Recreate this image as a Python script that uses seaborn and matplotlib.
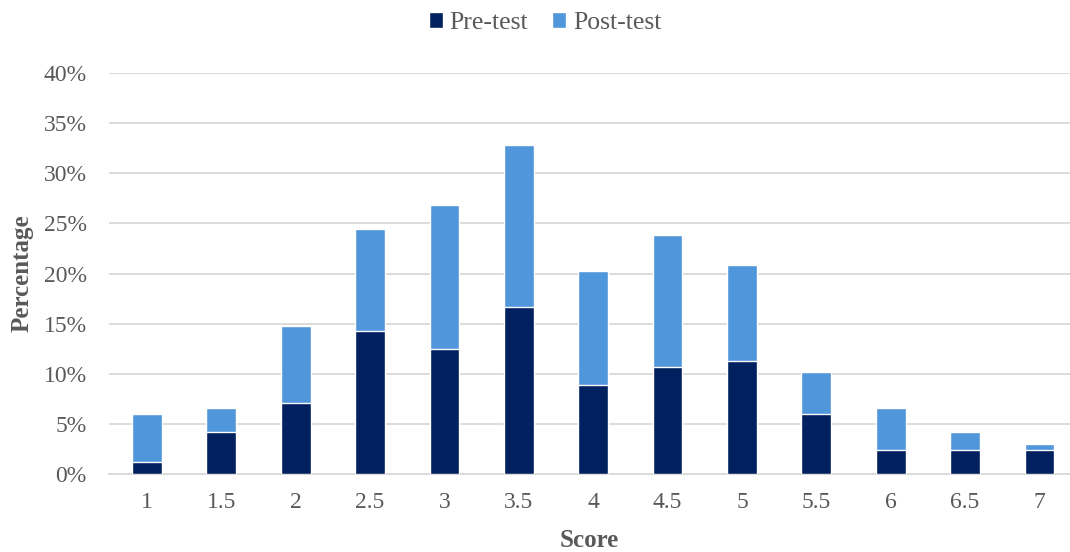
import matplotlib
matplotlib.use("Agg")
import matplotlib.pyplot as plt
from matplotlib.patches import Patch
from matplotlib.ticker import FuncFormatter, MultipleLocator
import numpy as np
import pandas as pd
import seaborn as sns

# Score distribution (% of respondents) before and after the intervention
scores = ["1", "1.5", "2", "2.5", "3", "3.5", "4", "4.5", "5", "5.5", "6", "6.5", "7"]
pre_test = [1.2, 4.2, 7.1, 14.3, 12.5, 16.7, 8.9, 10.7, 11.3, 6.0, 2.4, 2.4, 2.4]
post_test = [4.8, 2.4, 7.7, 10.1, 14.3, 16.1, 11.3, 13.1, 9.5, 4.2, 4.2, 1.8, 0.6]

PRE_COLOR = "#002060"
POST_COLOR = "#5096DA"
GRID_COLOR = "#D9D9D9"
TEXT_COLOR = "#595959"

df = pd.DataFrame({"Score": scores, "Pre-test": pre_test, "Post-test": post_test})
df["Total"] = df["Pre-test"] + df["Post-test"]

sns.set_theme(style="white")
plt.rcParams["font.family"] = ["Liberation Serif", "DejaVu Serif"]

fig = plt.figure(figsize=(10.70, 5.52), dpi=100)
ax = fig.add_axes([109 / 1070, 1 - 474 / 552, 961 / 1070, 401 / 552])

# stacked bars: full height in post-test colour, pre-test segment drawn over the base
sns.barplot(data=df, x="Score", y="Total", color=POST_COLOR, width=0.4,
            saturation=1, ax=ax, zorder=2)
sns.barplot(data=df, x="Score", y="Pre-test", color=PRE_COLOR, width=0.4,
            saturation=1, ax=ax, zorder=3)

ax.set_ylim(0, 40)
ax.set_xlim(-0.51, 12.41)
ax.yaxis.set_major_locator(MultipleLocator(5))
ax.yaxis.set_major_formatter(FuncFormatter(lambda v, _: f"{v:.0f}%"))
ax.grid(axis="y", color=GRID_COLOR, linewidth=1.3, zorder=0)
ax.set_axisbelow(True)

for side in ("top", "right", "left"):
    ax.spines[side].set_visible(False)
ax.spines["bottom"].set_color(GRID_COLOR)
ax.spines["bottom"].set_linewidth(1.3)

ax.tick_params(axis="both", length=0, labelsize=17, labelcolor=TEXT_COLOR)
ax.tick_params(axis="x", pad=13)
ax.tick_params(axis="y", pad=16)

ax.set_xlabel("Score", fontsize=18, fontweight="bold", color=TEXT_COLOR)
ax.set_ylabel("Percentage", fontsize=18, fontweight="bold", color=TEXT_COLOR)
ax.xaxis.set_label_coords(0.5, -0.136)
ax.yaxis.set_label_coords(-0.079, 0.5)

handles = [Patch(facecolor=PRE_COLOR, label="Pre-test"),
           Patch(facecolor=POST_COLOR, label="Post-test")]
fig.legend(handles=handles, loc="center", bbox_to_anchor=(545 / 1070, 1 - 23 / 552),
           ncol=2, frameon=False, fontsize=18.5, labelcolor=TEXT_COLOR,
           handlelength=0.55, handleheight=0.55, handletextpad=0.25,
           columnspacing=0.95)

fig.savefig("out.png", dpi=100)
